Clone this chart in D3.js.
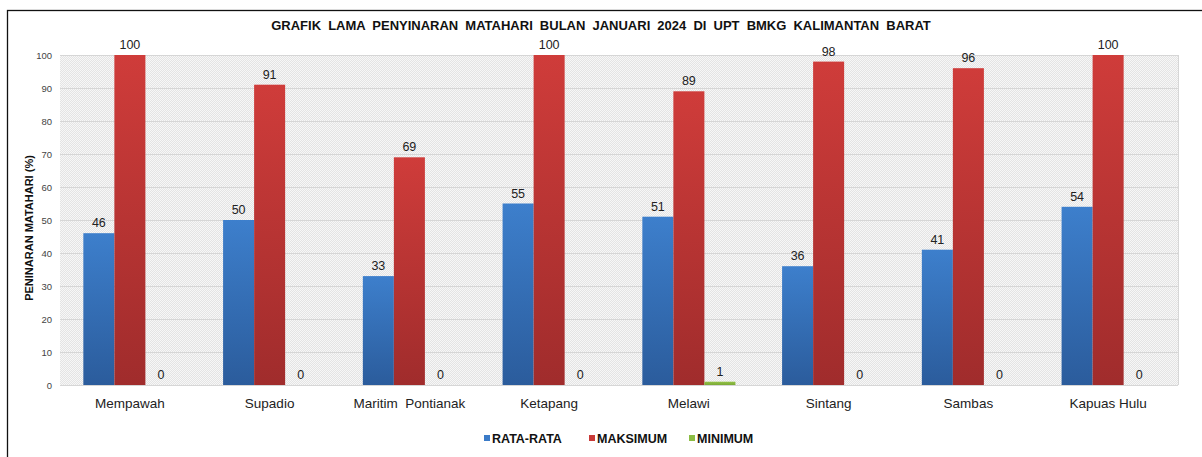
<!DOCTYPE html>
<html>
<head>
<meta charset="utf-8">
<script src="https://cdn.jsdelivr.net/npm/d3@7"></script>
<style>
  body { margin: 0; background: #fff; font-family: Arial, "Liberation Sans", sans-serif; }
  svg { display: block; }
</style>
</head>
<body>
<div id="chart"></div>
<script>
// ── Data ──────────────────────────────────────────────────────────────────
const stations = ["Mempawah", "Supadio", "Maritim  Pontianak", "Ketapang", "Melawi", "Sintang", "Sambas", "Kapuas Hulu"];
const rataRata = [46, 50, 33, 55, 51, 36, 41, 54];
const maksimum = [100, 91, 69, 100, 89, 98, 96, 100];
const minimum  = [0, 0, 0, 0, 1, 0, 0, 0];
const yTicks   = [0, 10, 20, 30, 40, 50, 60, 70, 80, 90, 100];
const seriesNames = ["RATA-RATA", "MAKSIMUM", "MINIMUM"];

const series = [
  { name: seriesNames[0], values: rataRata, top: "#3d7fcc", bot: "#2b5c9c", key: "#3b7bc8" },
  { name: seriesNames[1], values: maksimum, top: "#cf3c3a", bot: "#a02c2c", key: "#c93a38" },
  { name: seriesNames[2], values: minimum,  top: "#93c247", bot: "#7aa935", key: "#8cbd44" },
];

// ── Layout ────────────────────────────────────────────────────────────────
const totalW = 1202, totalH = 457;
const margin = { top: 55, right: 24, bottom: 72, left: 60 };
const W = totalW - margin.left - margin.right;
const H = totalH - margin.top - margin.bottom;

const svg = d3.select("#chart").append("svg")
  .attr("width", totalW).attr("height", totalH);

const defs = svg.append("defs");

// dotted plot background
const pat = defs.append("pattern")
  .attr("id", "dots").attr("width", 2).attr("height", 2)
  .attr("patternUnits", "userSpaceOnUse");
pat.append("rect").attr("width", 2).attr("height", 2).attr("fill", "#f7f7f7");
pat.append("rect").attr("width", 1).attr("height", 1).attr("fill", "#e4e4e4");
pat.append("rect").attr("x", 1).attr("y", 1).attr("width", 1).attr("height", 1).attr("fill", "#e4e4e4");

series.forEach((s, i) => {
  const gr = defs.append("linearGradient")
    .attr("id", "grad" + i).attr("x1", 0).attr("y1", 0).attr("x2", 0).attr("y2", 1);
  gr.append("stop").attr("offset", "0%").attr("stop-color", s.top);
  gr.append("stop").attr("offset", "100%").attr("stop-color", s.bot);
});

// outer frame (runs off right/bottom edge)
svg.append("rect")
  .attr("x", 7.5).attr("y", 10.5)
  .attr("width", totalW + 20).attr("height", totalH + 20)
  .attr("fill", "none").attr("stroke", "#111").attr("stroke-width", 1.3);

// title
svg.append("text")
  .attr("x", 601).attr("y", 30)
  .attr("text-anchor", "middle")
  .attr("font-size", 13).attr("font-weight", "bold")
  .attr("word-spacing", 3.5).attr("fill", "#111")
  .text("GRAFIK LAMA PENYINARAN MATAHARI BULAN JANUARI 2024 DI UPT BMKG KALIMANTAN BARAT");

const g = svg.append("g")
  .attr("transform", `translate(${margin.left},${margin.top})`);

// ── Scales ────────────────────────────────────────────────────────────────
const x0 = d3.scaleBand().domain(stations).range([0, W]).paddingInner(0.334).paddingOuter(0.167);
const x1 = d3.scaleBand().domain(seriesNames).range([0, x0.bandwidth()]);
const y  = d3.scaleLinear().domain([0, 100]).range([H, 0]);

// plot background + grid
g.append("rect").attr("width", W).attr("height", H).attr("fill", "url(#dots)");

g.append("g")
  .selectAll("line").data(yTicks).join("line")
  .attr("x1", 0).attr("x2", W)
  .attr("y1", d => y(d) + 0.5).attr("y2", d => y(d) + 0.5)
  .attr("stroke", "#d6d6d6").attr("stroke-width", 1);

g.append("line")
  .attr("x1", W + 0.5).attr("x2", W + 0.5).attr("y1", 0).attr("y2", H)
  .attr("stroke", "#d6d6d6");

// y axis
const yAxis = g.append("g")
  .attr("transform", "translate(-8,0)")
  .call(d3.axisLeft(y).tickValues(yTicks).tickSize(0).tickPadding(0));
yAxis.select(".domain").remove();
yAxis.selectAll("text")
  .attr("font-size", 9.5).attr("fill", "#444")
  .attr("font-family", "Arial, 'Liberation Sans', sans-serif");

// x axis labels
g.append("g").selectAll("text").data(stations).join("text")
  .attr("x", d => x0(d) + x0.bandwidth() / 2)
  .attr("y", H + 23)
  .attr("text-anchor", "middle")
  .attr("font-size", 13.5).attr("fill", "#222")
  .attr("xml:space", "preserve")
  .style("white-space", "pre")
  .text(d => d);

// y axis title
svg.append("text")
  .attr("transform", `translate(33,${margin.top + H / 2 + 8}) rotate(-90)`)
  .attr("text-anchor", "middle")
  .attr("font-size", 11).attr("font-weight", "bold").attr("fill", "#111")
  .text("PENINARAN MATAHARI (%)");

// ── Bars ──────────────────────────────────────────────────────────────────
series.forEach((s, si) => {
  const grp = g.append("g");
  grp.selectAll("rect").data(stations).join("rect")
    .attr("x", d => x0(d) + x1(s.name))
    .attr("y", (d, i) => y(s.values[i]))
    .attr("width", x1.bandwidth())
    .attr("height", (d, i) => y(0) - y(s.values[i]))
    .attr("fill", `url(#grad${si})`);

  grp.selectAll("text").data(stations).join("text")
    .attr("x", d => x0(d) + x1(s.name) + x1.bandwidth() / 2)
    .attr("y", (d, i) => y(s.values[i]) - 6)
    .attr("text-anchor", "middle")
    .attr("font-size", 12.5).attr("fill", "#222")
    .text((d, i) => s.values[i]);
});

// ── Legend ────────────────────────────────────────────────────────────────
const legendX = [484, 589, 689];
const legend = svg.append("g");
series.forEach((s, i) => {
  const item = legend.append("g").attr("transform", `translate(${legendX[i]},443)`);
  item.append("rect").attr("x", 0).attr("y", -8).attr("width", 6).attr("height", 6).attr("fill", s.key);
  item.append("text").attr("x", 8).attr("y", 0)
    .attr("font-size", 12.5).attr("font-weight", "bold").attr("fill", "#111")
    .text(s.name);
});
</script>
</body>
</html>
